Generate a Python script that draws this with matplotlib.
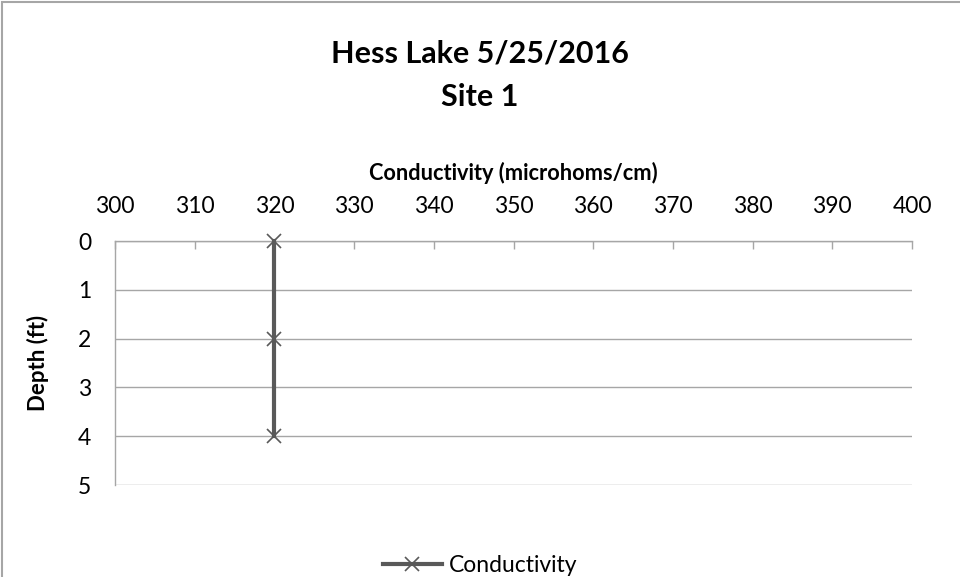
import matplotlib
matplotlib.use("Agg")
import matplotlib.pyplot as plt
from matplotlib.patches import Rectangle

conductivity = [320, 320, 320]
depth = [0, 2, 4]
x_ticks = [300, 310, 320, 330, 340, 350, 360, 370, 380, 390, 400]
y_ticks = [0, 1, 2, 3, 4, 5]

plt.rcParams['font.family'] = ['Lato', 'DejaVu Sans']

W, H = 960, 577
fig = plt.figure(figsize=(W/100, H/100), dpi=100)
fig.patches.append(Rectangle((2/W, -0.01), 1.0, 1.0 - 2/H + 0.01, transform=fig.transFigure,
                             fill=False, edgecolor='#a6a6a6', linewidth=1.5))

ax = fig.add_axes([115/W, 1-485/H, (912-115)/W, (485-241)/H])
ax.plot(conductivity, depth, color='#595959', linewidth=3, marker='x',
        markersize=10, markeredgecolor='#595959', markeredgewidth=1.2, label='Conductivity',
        zorder=3, clip_on=False)
ax.set_xlim(300, 400)
ax.set_ylim(5, 0)
ax.xaxis.tick_top()
ax.xaxis.set_label_position('top')
ax.set_xticks(x_ticks)
ax.set_yticks(y_ticks)
ax.tick_params(axis='x', direction='in', length=6, color='#a6a6a6', width=1, pad=17,
               labelsize=16.5, labelcolor='black')
ax.tick_params(axis='y', length=0, pad=17, labelsize=16.5)
for s in ['right', 'bottom']:
    ax.spines[s].set_visible(False)
for s in ['left', 'top']:
    ax.spines[s].set_color('#a6a6a6')
    ax.spines[s].set_linewidth(1)
ax.grid(axis='y', color='#a6a6a6', linewidth=1)
ax.set_axisbelow(True)
ax.set_xlabel('Conductivity (microhoms/cm)', fontsize=15.7, fontweight='bold', labelpad=12)
ax.set_ylabel('Depth (ft)', fontsize=16, fontweight='bold', labelpad=21)

fig.text(0.5, 1-53/H, 'Hess Lake 5/25/2016', ha='center', va='center', fontsize=22, fontweight='bold')
fig.text(0.5, 1-97/H, 'Site 1', ha='center', va='center', fontsize=22, fontweight='bold')

leg = fig.legend(loc='center', bbox_to_anchor=(0.5, 1-566/H), frameon=False, fontsize=16.5,
                 handlelength=2.6, handletextpad=0.3)

fig.savefig('out.png', dpi=100)
